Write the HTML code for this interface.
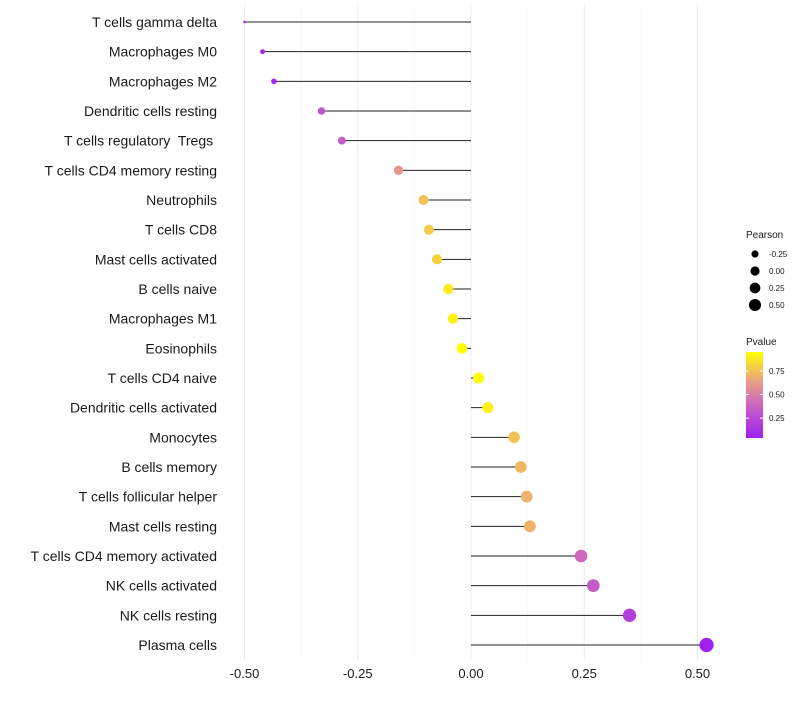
<!DOCTYPE html>
<html><head><meta charset="utf-8"><style>
body{margin:0;background:#fff;font-family:"Liberation Sans",sans-serif}
text{white-space:pre}
</style></head><body>
<svg id="c" width="800" height="700" xmlns="http://www.w3.org/2000/svg"></svg>
<script>
const cells=["T cells gamma delta","Macrophages M0","Macrophages M2","Dendritic cells resting","T cells regulatory  Tregs ","T cells CD4 memory resting","Neutrophils","T cells CD8","Mast cells activated","B cells naive","Macrophages M1","Eosinophils","T cells CD4 naive","Dendritic cells activated","Monocytes","B cells memory","T cells follicular helper","Mast cells resting","T cells CD4 memory activated","NK cells activated","NK cells resting","Plasma cells"];
const pearson=[-0.50,-0.46,-0.435,-0.33,-0.285,-0.16,-0.105,-0.093,-0.075,-0.05,-0.04,-0.02,0.017,0.037,0.095,0.11,0.123,0.13,0.243,0.27,0.35,0.52];
const pvalues=[0.04,0.06,0.08,0.3,0.35,0.6,0.75,0.78,0.8,0.88,0.9,0.95,0.95,0.9,0.75,0.72,0.7,0.7,0.4,0.35,0.2,0.04];
const xTicks=[-0.5,-0.25,0,0.25,0.5];
const xTickLabels=["-0.50","-0.25","0.00","0.25","0.50"];
const sizeLegend=[-0.25,0,0.25,0.5];
const colorTicks=[0.25,0.5,0.75];

const svg=document.getElementById('c');
const NS="http://www.w3.org/2000/svg";
function mk(t,a,p){const e=document.createElementNS(NS,t);for(const k in a)e.setAttribute(k,a[k]);(p||svg).appendChild(e);return e;}
const x=v=>471+v*453;
const y=i=>22+i*(623/21);
const r=v=>1.3+5.8*Math.sqrt(Math.max(0,v+0.5));
const stops=[[0,[160,32,240]],[0.33,[196,90,200]],[0.66,[234,160,133]],[1,[255,255,0]]];
function col(p){const t=Math.max(0,Math.min(1,(p-0.04)/0.91));for(let i=1;i<stops.length;i++){if(t<=stops[i][0]){const a=stops[i-1],b=stops[i];const f=(t-a[0])/(b[0]-a[0]);const c=a[1].map((v,k)=>Math.round(v+(b[1][k]-v)*f));return `rgb(${c})`;}}return 'rgb(255,255,0)';}

// grid
for(let k=-0.5;k<=0.51;k+=0.125){
  const major=Math.abs(k*4-Math.round(k*4))<1e-6;
  const g=mk('line',{x1:x(k),x2:x(k),y1:5,y2:660,stroke:major?'#ebebeb':'#f5f5f5','stroke-width':major?1:0.6});
  
  
}
cells.forEach((c,i)=>{
  const yy=y(i);
  const l=mk('line',{x1:x(0),x2:x(pearson[i]),y1:yy,y2:yy,stroke:'#222','stroke-width':1});
  
  
  const p=mk('circle',{cx:x(pearson[i]),cy:yy,r:r(pearson[i]),fill:col(pvalues[i])});
  
  
  const t=mk('text',{x:217,y:yy+5,'text-anchor':'end','font-size':14,fill:'#1a1a1a'});
  t.textContent=c;
  
  
});
xTicks.forEach((v,i)=>{
  const t=mk('text',{x:x(v),y:678,'text-anchor':'middle','font-size':13,fill:'#1a1a1a'});
  t.textContent=xTickLabels[i];
  
  
});
// size legend
let lt=mk('text',{x:746,y:238,'font-size':10,fill:'#1a1a1a'});lt.textContent='Pearson';


sizeLegend.forEach((v,i)=>{
  const yy=254+i*17;
  const c=mk('circle',{cx:755,cy:yy,r:r(v)*0.85,fill:'#000'});
  
  
  const t=mk('text',{x:769,y:yy+3,'font-size':8,fill:'#1a1a1a'});t.textContent=v.toFixed(2);
  
  
});
// color legend
lt=mk('text',{x:746,y:345,'font-size':10,fill:'#1a1a1a'});lt.textContent='Pvalue';


const defs=mk('defs',{});
const lg=mk('linearGradient',{id:'pg',x1:0,y1:1,x2:0,y2:0},defs);
stops.forEach(s=>mk('stop',{offset:s[0],'stop-color':`rgb(${s[1]})`},lg));
const bar=mk('rect',{x:746,y:352,width:17,height:86,fill:'url(#pg)'});


const cy=p=>438-(p-0.04)/0.91*86;
colorTicks.forEach(p=>{
  mk('line',{x1:746,x2:749,y1:cy(p),y2:cy(p),stroke:'#fff'});
  mk('line',{x1:760,x2:763,y1:cy(p),y2:cy(p),stroke:'#fff'});
  const t=mk('text',{x:769,y:cy(p)+3,'font-size':8,fill:'#1a1a1a'});t.textContent=p.toFixed(2);
  
  
});
</script>
</body></html>
